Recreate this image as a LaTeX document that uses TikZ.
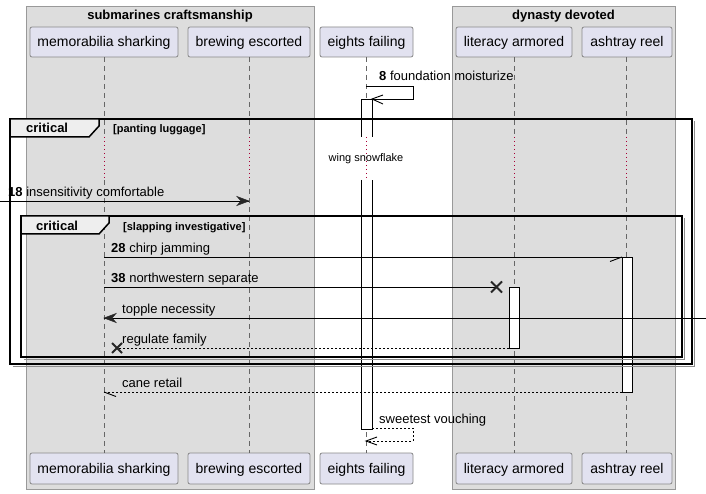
\documentclass[tikz,border=0pt]{standalone}
\usepackage{fontspec}
\setmainfont{Liberation Sans}
\begin{document}
\begin{tikzpicture}[x=1pt,y=-1pt,
  grp/.style={fill=grpfill,draw=grpline,line width=0.8pt},
  pbox/.style={fill=partfill,draw=partline,line width=0.8pt,rounded corners=2pt},
  ptext/.style={anchor=base,inner sep=0pt,font=\fontsize{14}{16}\selectfont},
  gtitle/.style={anchor=base,inner sep=0pt,font=\fontsize{13}{15}\selectfont\bfseries},
  life/.style={draw=lifeline,line width=0.8pt,dash pattern=on 5pt off 4pt},
  delayline/.style={draw=delayred,line width=0.8pt,dash pattern=on 1pt off 3pt},
  act/.style={fill=white,draw=black,line width=0.9pt},
  msg/.style={draw=black,line width=0.9pt},
  rmsg/.style={draw=black,line width=0.9pt,dash pattern=on 2pt off 2pt},
  mlabel/.style={anchor=base west,inner sep=0pt,font=\fontsize{13}{15}\selectfont},
  frm/.style={draw=black,line width=1.5pt},
  frmshadow/.style={draw=shadowgray,line width=1.5pt},
  tab/.style={fill=tabfill,draw=black,line width=1.5pt},
  tabtext/.style={anchor=base west,inner sep=0pt,font=\fontsize{13}{15}\selectfont\bfseries},
  condtext/.style={anchor=base west,inner sep=0pt,font=\fontsize{11}{13}\selectfont\bfseries},
  xmark/.style={draw=black!85,line width=2pt},
  ahead/.style={fill=black!85,draw=black!85,line width=0.5pt},
  openhead/.style={draw=black,line width=0.9pt}
]
\definecolor{grpfill}{HTML}{DDDDDD}
\definecolor{grpline}{HTML}{999999}
\definecolor{partfill}{HTML}{E2E2F0}
\definecolor{partline}{HTML}{888888}
\definecolor{lifeline}{HTML}{666666}
\definecolor{delayred}{HTML}{A80036}
\definecolor{tabfill}{HTML}{EEEEEE}
\definecolor{shadowgray}{HTML}{8C8C8C}

\useasboundingbox[fill=white] (0,0) rectangle (706,494);

% groups
\path[grp] (26,6) rectangle (314,489);
\path[grp] (452,6) rectangle (675,489);
\node[gtitle] (g1) at (170,20) {submarines craftsmanship};
\node[gtitle] (g2) at (563.5,20) {dynasty devoted};

% participants top
\foreach \nm/\xa/\xb/\lab in {ms/30/178/memorabilia sharking, be/188/310/brewing escorted, ef/320/413/eights failing, la/456/572/literacy armored, ar/582/672/ashtray reel}{
  \path[pbox] (\xa,27) rectangle (\xb,57);
  \node[ptext] (\nm top) at ({(\xa+\xb)/2},47) {\lab};
  \path[pbox] (\xa,453) rectangle (\xb,484);
  \node[ptext] (\nm bot) at ({(\xa+\xb)/2},473.5) {\lab};
}

% lifelines
\foreach \x in {104,249,366,514,626}{
  \coordinate (lt\x) at (\x,57);
  \coordinate (la\x) at (\x,137);
  \coordinate (lb\x) at (\x,180);
  \coordinate (lz\x) at (\x,453);
  \path[life] (lt\x) -- (la\x);
  \path[delayline] (la\x) -- (lb\x);
  \path[life] (lb\x) -- (lz\x);
}

% delay text
\node[inner sep=0pt,font=\fontsize{11}{13}\selectfont] (delay) at (366,159) {wing snowflake};

% activations
\path[fill=white] (361,99) rectangle (372,137);
\draw[line width=0.9pt] (361,137) -- (361,99) -- (372,99) -- (372,137);
\path[fill=white] (361,180) rectangle (372,429);
\draw[line width=0.9pt] (361,180) -- (361,429) -- (372,429) -- (372,180);
\path[act] (622,257) rectangle (632,392);
\path[act] (509,287) rectangle (519,348);

% outer critical frame
\draw[frmshadow] (12.5,366.5) -- (694.5,366.5) -- (694.5,121.5);
\draw[frm] (10,119) rectangle (692,364);
\path[tab] (10,119) -- (99,119) -- (99,126) -- (89,137) -- (10,137) -- cycle;
\node[tabtext] (c1) at (26,133) {critical};
\node[condtext] (c1c) at (113,133) {[panting luggage]};

% inner critical frame
\draw[frmshadow] (23.5,359.5) -- (684.5,359.5) -- (684.5,218.5);
\draw[frm] (21,216) rectangle (682,357);
\path[tab] (21,216) -- (109,216) -- (109,223) -- (99,234) -- (21,234) -- cycle;
\node[tabtext] (c2) at (36,231) {critical};
\node[condtext] (c2c) at (123,230) {[slapping investigative]};

% message 8 (self)
\coordinate (m8a) at (366,86);
\coordinate (m8b) at (413,86);
\coordinate (m8c) at (413,99);
\coordinate (m8d) at (372,99);
\draw[msg] (m8a) -- (m8b) -- (m8c) -- (m8d);
\draw[openhead] (383,95) -- (m8d) -- (383,104);
\node[mlabel] (l8) at (379,81) {\textbf{8} foundation moisturize};

% message 18
\coordinate (m18a) at (0,201);
\coordinate (m18b) at (249,201);
\draw[msg] (m18a) -- (m18b);
\path[ahead] (m18b) -- (237,196.5) -- (241,201) -- (237,205.5) -- cycle;
\node[mlabel] (l18) at (8,197) {\textbf{18} insensitivity comfortable};

% message 28
\coordinate (m28a) at (104,257);
\coordinate (m28b) at (622,257);
\draw[msg] (m28a) -- (m28b);
\draw[openhead] (m28b) -- (610,261.5);
\node[mlabel] (l28) at (111,252) {\textbf{28} chirp jamming};

% message 38
\coordinate (m38a) at (104,287);
\coordinate (m38b) at (496.5,287);
\draw[msg] (m38a) -- (m38b);
\draw[xmark] (491,281.5) -- (502,292.5) (491,292.5) -- (502,281.5);
\node[mlabel] (l38) at (111,282) {\textbf{38} northwestern separate};

% topple necessity
\coordinate (mta) at (706,318);
\coordinate (mtb) at (104,318);
\draw[msg] (mta) -- (mtb);
\path[ahead] (mtb) -- (116,313.5) -- (112,318) -- (116,322.5) -- cycle;
\node[mlabel] (lt) at (122,313) {topple necessity};

% regulate family
\coordinate (mra) at (509,348);
\coordinate (mrb) at (117,348);
\draw[rmsg] (mra) -- (mrb);
\draw[xmark] (112,343) -- (122,353) (112,353) -- (122,343);
\node[mlabel] (lr) at (122,343) {regulate family};

% cane retail
\coordinate (mca) at (622,392);
\coordinate (mcb) at (104,392);
\draw[rmsg] (mca) -- (mcb);
\draw[openhead] (mcb) -- (116,396.5);
\node[mlabel] (lc) at (122,387) {cane retail};

% sweetest vouching (self)
\coordinate (msa) at (372,428);
\coordinate (msb) at (413,428);
\coordinate (msc) at (413,441);
\coordinate (msd) at (366,441);
\draw[rmsg] (msa) -- (msb) -- (msc) -- (msd);
\draw[openhead] (377,437) -- (msd) -- (377,445);
\node[mlabel] (ls) at (379,423) {sweetest vouching};
\end{tikzpicture}
\end{document}
